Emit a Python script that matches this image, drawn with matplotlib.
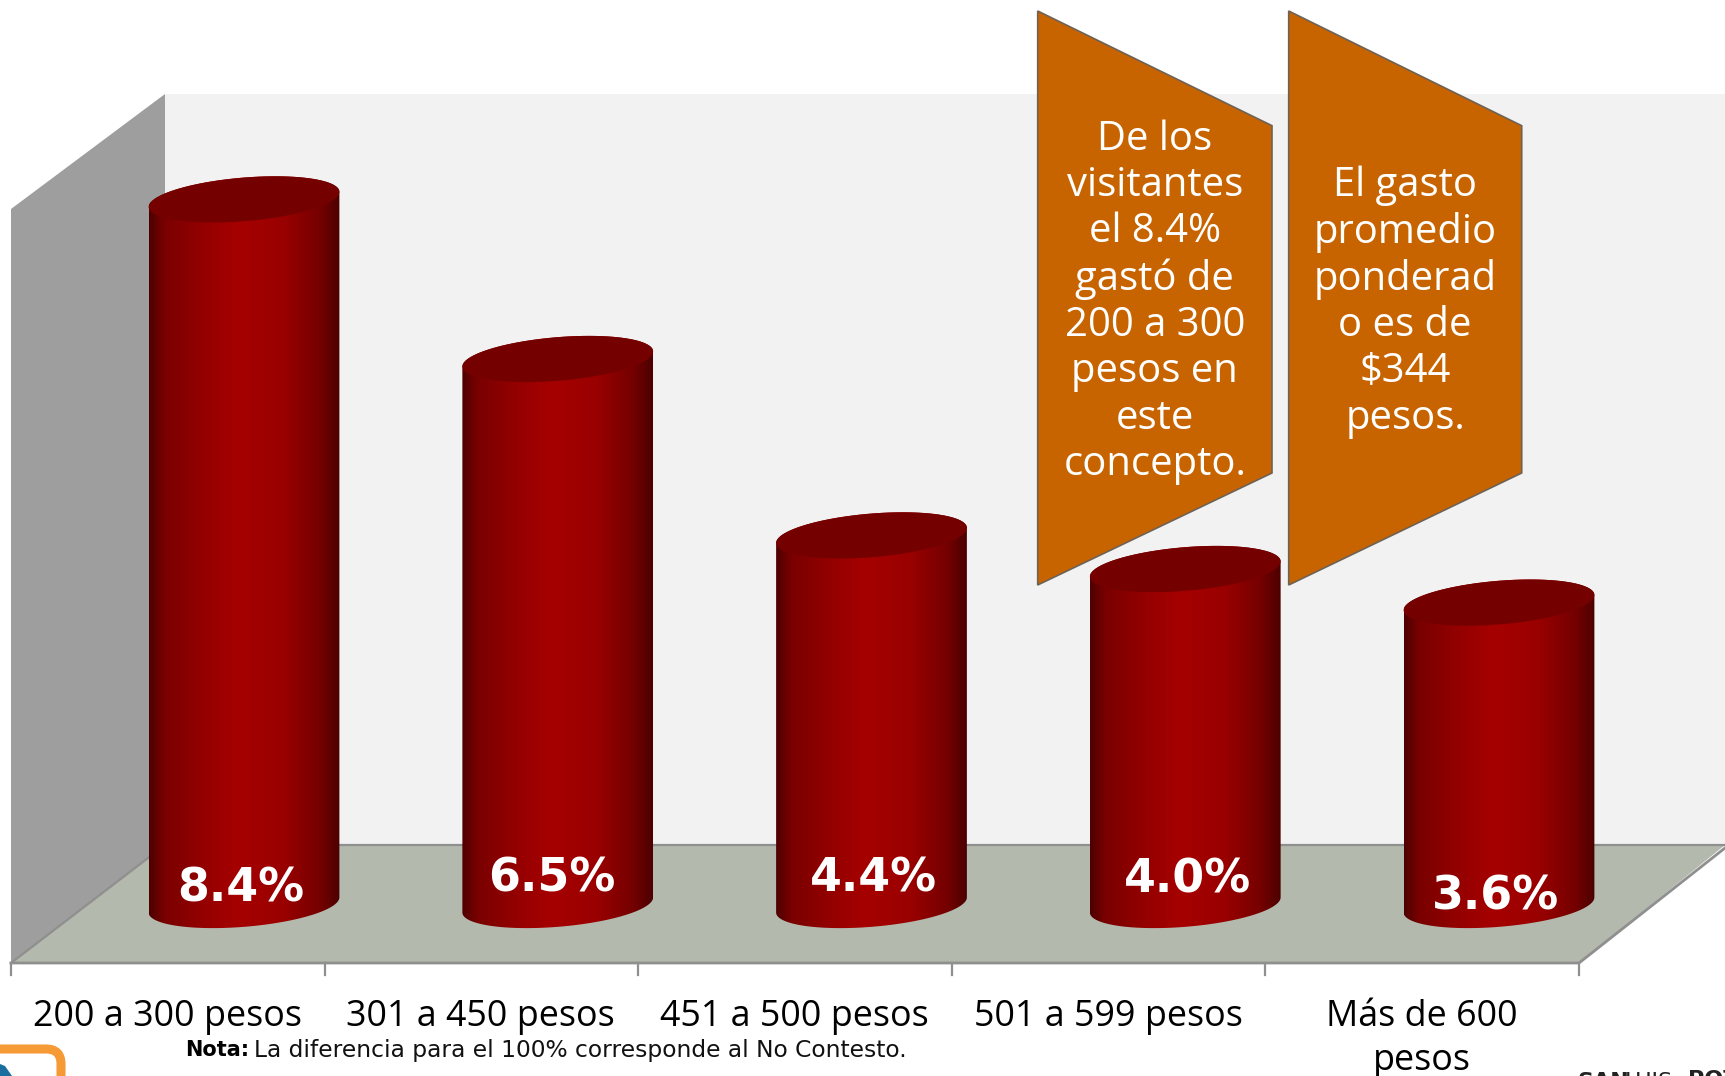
import numpy as np
import matplotlib
matplotlib.use("Agg")
import matplotlib.pyplot as plt
from matplotlib.colors import LinearSegmentedColormap
from matplotlib.patches import Polygon, FancyBboxPatch
#
# Data
categories = ["200 a 300 pesos", "301 a 450 pesos", "451 a 500 pesos", "501 a 599 pesos", "Más de 600\npesos"]
values = [8.4, 6.5, 4.4, 4.0, 3.6]
value_labels = ["8.4%", "6.5%", "4.4%", "4.0%", "3.6%"]
callout_texts = ["De los\nvisitantes\nel 8.4%\ngastó de\n200 a 300\npesos en\neste\nconcepto.",
                 "El gasto\npromedio\nponderad\no es de\n$344\npesos."]
#
W, H = 1725, 1076
fig = plt.figure(figsize=(W / 100, H / 100), dpi=100)
#
# Backdrop axes, in picture pixels: walls, floor, callouts and notes
bg = fig.add_axes([0, 0, 1, 1])
bg.set_xlim(0, W)
bg.set_ylim(H, 0)
bg.axis("off")
bg.add_patch(Polygon([(165, 94), (W, 94), (W, 845), (165, 845)], fc="#f2f2f2", ec="none"))
bg.add_patch(Polygon([(11, 209), (165, 94), (165, 845), (11, 963)], fc="#9e9e9e", ec="none"))
bg.add_patch(Polygon([(11, 963), (165, 845), (W, 845), (1579, 963)], fc="#b3b9ad", ec="none"))
edge = "#8f8f8f"
bg.plot([11, 165, W], [963, 845, 845], color=edge, lw=1.6)
bg.plot([11, 1579, W], [963, 963, 848], color=edge, lw=2)
for k in range(6):
    xt = 11 + k * 313.6
    bg.plot([xt, xt], [963, 975], color=edge, lw=1.6)
#
# Main axes: category position against percent, one percent is 84 px
ax = fig.add_axes([0, 0, 1, 1], facecolor="none")
x_step = 313.75
xlim = (-244 / x_step, (W - 244) / x_step)
ylim = (-(H - 905) / 84.0, 905 / 84.0)
ax.axis("off")
#
bar_cmap = LinearSegmentedColormap.from_list("bar", [(0, "#4e0000"), (0.08, "#7a0000"), (0.3, "#960000"), (0.47, "#a60000"),
                                                     (0.7, "#9a0000"), (0.9, "#740000"), (1, "#4c0000")])
grad = np.linspace(0, 1, 256).reshape(1, -1)
half_w = 0.304
rise = 0.09
half_h = 0.26
t = np.linspace(0, 2 * np.pi, 121)
lower = np.linspace(np.pi, 2 * np.pi, 61)
upper = np.linspace(0, np.pi, 61)
label_dx = [-0.01, -0.02, 0.006, 0.006, -0.01]
label_y = [0.19, 0.31, 0.31, 0.30, 0.09]
for i, v in enumerate(values):
    # body: front half of the base ellipse, up to the back of the top one
    bx = i + half_w * np.cos(lower)
    by = half_h * np.sin(lower) + rise * np.cos(lower)
    tx = i + half_w * np.cos(upper)
    ty = v + half_h * np.sin(upper) + rise * np.cos(upper)
    body = np.column_stack([np.r_[bx, tx], np.r_[by, ty]])
    im = ax.imshow(grad, cmap=bar_cmap, extent=[i - half_w, i + half_w, -1, v + 1], aspect="auto", zorder=3)
    patch = Polygon(body, closed=True, fc="none", ec="none", transform=ax.transData)
    ax.add_patch(patch)
    im.set_clip_path(patch)
    # top of the cylinder
    ax.fill(i + half_w * np.cos(t), v + half_h * np.sin(t) + rise * np.cos(t), color="#750000", zorder=4, lw=0)
    # value label sitting low in the bar
    ax.text(i + label_dx[i], label_y[i], value_labels[i], color="white", fontsize=33, fontweight="bold",
            family="DejaVu Sans", ha="center", va="center", zorder=5)
ax.set_xlim(xlim)
ax.set_ylim(ylim)
#
# Category labels below the front edge
for i, c in enumerate(categories):
    ax.text(i - 77 / x_step, -1.115, c, color="black", fontsize=25.8, family="Open Sans", ha="center", va="top",
            linespacing=1.3, zorder=5)
#
# Callouts and their text
callout_x = [(1037.7, 1272), (1288.7, 1521.7)]
for (x0, x1), txt in zip(callout_x, callout_texts):
    bg.add_patch(Polygon([(x0, 11), (x1, 125.7), (x1, 473), (x0, 585)], fc="#c86400", ec="#6e6256", lw=1.2, zorder=6))
    bg.text((x0 + x1) / 2, 302, txt, color="white", fontsize=28.8, family="Open Sans", ha="center", va="center",
            linespacing=1.19, zorder=7)
#
# Note and clipped footer bits
bg.text(185, 1050, "Nota:", fontsize=15, fontweight="bold", family="DejaVu Sans", va="center")
bg.text(254, 1050, "La diferencia para el 100% corresponde al No Contesto.", fontsize=16.8, family="DejaVu Sans",
        va="center", color="#111111")
bg.add_patch(FancyBboxPatch((-40, 1049), 101, 60, boxstyle="round,pad=0,rounding_size=15", fc="white", ec="#f59a34", lw=6.5))
bg.add_patch(Polygon([(0, 1064), (5, 1066), (12, 1076), (0, 1076)], fc="#1b6f9e", ec="none"))
bg.text(1577, 1072, "SAN", fontsize=16, fontweight="bold", family="DejaVu Sans", va="top", color="#222222")
bg.text(1625, 1072, "LUIS", fontsize=16, family="DejaVu Sans", va="top", color="#222222")
bg.text(1688, 1070, "POTOSÍ", fontsize=16, fontweight="bold", family="DejaVu Sans", va="top", color="#222222")
#
fig.savefig("out.png", dpi=100)
